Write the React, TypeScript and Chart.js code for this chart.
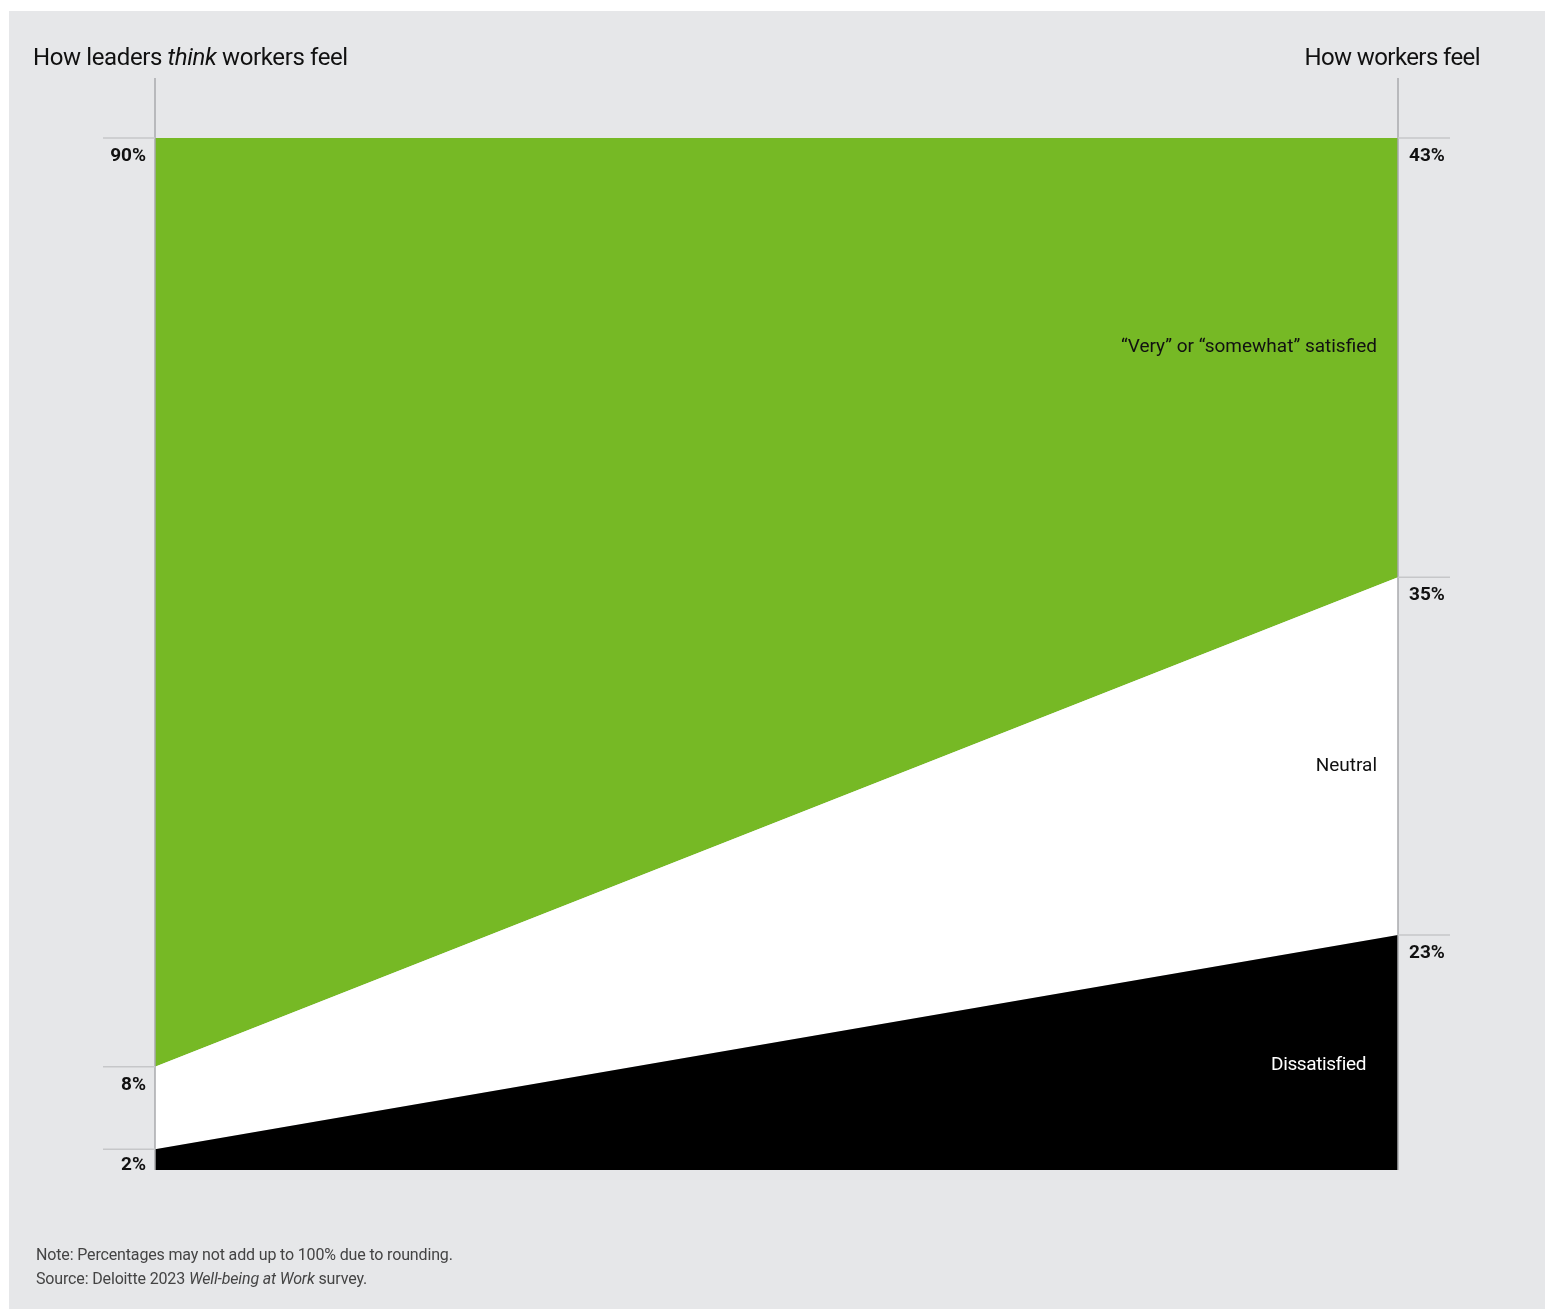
import React, { useEffect, useRef } from "react";
import { Chart, registerables } from "chart.js";

Chart.register(...registerables);

const categories = ["How leaders think workers feel", "How workers feel"];
const dissatisfied = [2, 23];
const neutral = [8, 35];
const satisfied = [90, 43];
const seriesNames = ["Dissatisfied", "Neutral", "“Very” or “somewhat” satisfied"];

const GREEN = "#76b925";
const BG = "#e6e7e9";
const FONT = "Roboto, 'Noto Sans', sans-serif";

const CARD_W = 1536;
const CARD_H = 1298;

const totals = categories.map((_, i) => dissatisfied[i] + neutral[i] + satisfied[i]);
const share = (arr: number[]) => arr.map((v, i) => (v / totals[i]) * 100);

const axisPlugin = {
  id: "sideAxes",
  afterDatasetsDraw(chart: any) {
    const { ctx, chartArea, scales } = chart;
    const y = scales.y;
    const { left, right, top, bottom } = chartArea;
    ctx.save();
    ctx.strokeStyle = "#a9aaac";
    ctx.lineWidth = 1.5;
    [left, right].forEach((x: number) => {
      ctx.beginPath();
      ctx.moveTo(x, top - 60);
      ctx.lineTo(x, bottom);
      ctx.stroke();
    });
    const raw = [dissatisfied, neutral, satisfied];
    ctx.font = `bold 19px ${FONT}`;
    ctx.textBaseline = "middle";
    [0, 1].forEach((ci) => {
      let cum = 0;
      raw.forEach((series) => {
        cum += (series[ci] / totals[ci]) * 100;
        const yy = y.getPixelForValue(cum);
        ctx.strokeStyle = "#c6c7c9";
        ctx.lineWidth = 1.5;
        ctx.beginPath();
        if (ci === 0) {
          ctx.moveTo(left - 52, yy);
          ctx.lineTo(left, yy);
        } else {
          ctx.moveTo(right, yy);
          ctx.lineTo(right + 52, yy);
        }
        ctx.stroke();
        ctx.fillStyle = "#111";
        const label = `${series[ci]}%`;
        const ty = Math.min(yy + 18, bottom - 5);
        if (ci === 0) {
          ctx.textAlign = "right";
          ctx.fillText(label, left - 9, ty);
        } else {
          ctx.textAlign = "left";
          ctx.fillText(label, right + 11, ty);
        }
      });
    });
    ctx.restore();
  },
};

export default function App() {
  const ref = useRef<HTMLCanvasElement | null>(null);

  useEffect(() => {
    if (!ref.current) return;
    const chart = new Chart(ref.current, {
      type: "line",
      data: {
        labels: categories,
        datasets: [
          {
            label: seriesNames[0],
            data: share(dissatisfied),
            backgroundColor: "#000000",
            borderWidth: 0,
            pointRadius: 0,
            fill: "origin",
          },
          {
            label: seriesNames[1],
            data: share(neutral),
            backgroundColor: "#ffffff",
            borderWidth: 0,
            pointRadius: 0,
            fill: "-1",
          },
          {
            label: seriesNames[2],
            data: share(satisfied),
            backgroundColor: GREEN,
            borderWidth: 0,
            pointRadius: 0,
            fill: "-1",
          },
        ],
      },
      options: {
        responsive: false,
        animation: false,
        layout: { padding: { left: 146, right: 147, top: 127, bottom: 139 } },
        plugins: { legend: { display: false }, tooltip: { enabled: false } },
        elements: { line: { tension: 0 } },
        scales: {
          x: { type: "category", offset: false, display: false },
          y: { stacked: true, min: 0, max: 100, display: false },
        },
      },
      plugins: [axisPlugin],
    });
    return () => chart.destroy();
  }, []);

  const txt = (style: React.CSSProperties, children: React.ReactNode) => (
    <div
      style={{
        position: "absolute",
        fontFamily: FONT,
        whiteSpace: "nowrap",
        ...style,
      }}
    >
      {children}
    </div>
  );

  return (
    <div
      style={{
        position: "absolute",
        left: 9,
        top: 11,
        width: CARD_W,
        height: CARD_H,
        background: BG,
      }}
    >
      <canvas
        ref={ref}
        width={CARD_W}
        height={CARD_H}
        style={{ position: "absolute", left: 0, top: 0, width: CARD_W, height: CARD_H }}
      />
      {txt(
        { left: 24, top: 31, fontSize: 24, lineHeight: "30px", letterSpacing: "-0.38px", color: "#111" },
        <>
          How leaders <i>think</i> workers feel
        </>
      )}
      {txt(
        { right: 65, top: 31, fontSize: 24, lineHeight: "30px", letterSpacing: "-0.6px", color: "#111" },
        "How workers feel"
      )}
      {txt({ right: 168, top: 323, fontSize: 19, lineHeight: "24px", color: "#111" }, seriesNames[2])}
      {txt({ right: 168, top: 742, fontSize: 19, lineHeight: "24px", color: "#111" }, seriesNames[1])}
      {txt({ right: 179, top: 1041, fontSize: 19, lineHeight: "24px", letterSpacing: "-0.4px", color: "#fff" }, seriesNames[0])}
      {txt(
        { left: 27, top: 1234, fontSize: 16, lineHeight: "20px", letterSpacing: "-0.15px", color: "#444" },
        "Note: Percentages may not add up to 100% due to rounding."
      )}
      {txt(
        { left: 27, top: 1258, fontSize: 16, lineHeight: "20px", letterSpacing: "-0.15px", color: "#444" },
        <>
          Source: Deloitte 2023 <i>Well-being at Work</i> survey.
        </>
      )}
    </div>
  );
}
